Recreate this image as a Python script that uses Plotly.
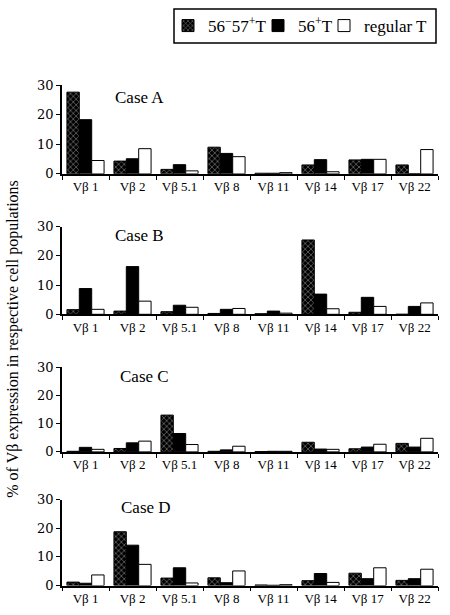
import plotly.graph_objects as go

categories = ["Vβ 1", "Vβ 2", "Vβ 5.1", "Vβ 8", "Vβ 11", "Vβ 14", "Vβ 17", "Vβ 22"]
series_names = ["56<sup>−</sup>57<sup>+</sup>T", "56<sup>+</sup>T", "regular T"]
case_labels = ["Case A", "Case B", "Case C", "Case D"]
y_ticks = [0, 10, 20, 30]

# values (% of Vβ expression) per case: [56-57+T, 56+T, regular T]
caseA_5657 = [27.6, 4.3, 1.5, 9.0, 0.2, 3.0, 4.7, 3.0]
caseA_56 = [18.3, 5.1, 3.1, 6.9, 0.2, 4.8, 4.9, 0.0]
caseA_reg = [4.5, 8.5, 1.0, 5.8, 0.4, 0.7, 4.9, 8.2]

caseB_5657 = [1.6, 1.1, 0.9, 0.3, 0.2, 25.4, 0.7, 0.0]
caseB_56 = [8.8, 16.3, 3.1, 1.7, 1.1, 6.9, 5.8, 2.7]
caseB_reg = [1.7, 4.5, 2.4, 2.0, 0.4, 1.9, 2.7, 3.9]

caseC_5657 = [0.2, 1.2, 13.0, 0.2, 0.1, 3.4, 1.1, 3.0]
caseC_56 = [1.6, 3.2, 6.5, 0.7, 0.2, 1.0, 1.7, 1.7]
caseC_reg = [0.9, 3.8, 2.6, 2.0, 0.2, 0.9, 2.7, 4.8]

caseD_5657 = [1.2, 18.8, 2.6, 2.7, 0.2, 1.7, 4.3, 1.8]
caseD_56 = [0.8, 14.1, 6.2, 1.0, 0.1, 4.2, 2.4, 2.4]
caseD_reg = [3.7, 7.4, 0.9, 5.1, 0.3, 1.1, 6.2, 5.7]

cases = [
    (caseA_5657, caseA_56, caseA_reg),
    (caseB_5657, caseB_56, caseB_reg),
    (caseC_5657, caseC_56, caseC_reg),
    (caseD_5657, caseD_56, caseD_reg),
]

W, H = 450, 615
FONT = "Liberation Serif, Times New Roman, serif"

# panel pixel positions: (y of 0, y of 30)
panel_px = [(171, 80), (315, 225), (456, 369), (593, 505)]
case_label_px = [(113, 93), (113, 234), (118, 379), (119, 513)]
x_dom = [62 / W, 438 / W]
legend_x_px = [168, 258, 324]
legend_names = ["legend", "legend2", "legend3"]

fig = go.Figure()

styles = [
    dict(color="black", pattern=dict(shape="x", fgcolor="white", bgcolor="black", size=4, solidity=0.3, fillmode="overlay")),
    dict(color="black"),
    dict(color="white"),
]

for i, vals in enumerate(cases):
    xa = "x" if i == 0 else f"x{i+1}"
    ya = "y" if i == 0 else f"y{i+1}"
    for j, v in enumerate(vals):
        mk = dict(styles[j])
        mk["line"] = dict(color="black", width=1)
        fig.add_trace(go.Bar(
            x=categories, y=v, name=series_names[j], marker=mk,
            xaxis=xa, yaxis=ya, showlegend=(i == 0), legend=legend_names[j],
        ))
    y0, y1 = panel_px[i]
    dom = [1 - y0 / H, 1 - y1 / H]
    axis_common = dict(showline=True, linecolor="black", linewidth=1.5, ticks="outside",
                       tickcolor="black", ticklen=4, tickwidth=1.2, showgrid=False, zeroline=False)
    fig.layout[("xaxis" if i == 0 else f"xaxis{i+1}")] = dict(
        domain=x_dom, anchor=ya, type="category", tickson="boundaries", tickangle=0,
        tickfont=dict(family=FONT, size=13, color="black"), **axis_common)
    fig.layout[("yaxis" if i == 0 else f"yaxis{i+1}")] = dict(
        domain=dom, anchor=xa, range=[0, 30], tickvals=y_ticks,
        tickfont=dict(family="DejaVu Serif, serif", size=13, color="black"), **axis_common)
    lx, ly = case_label_px[i]
    fig.add_annotation(text=case_labels[i], xref="paper", yref="paper", x=lx / W, y=1 - ly / H,
                       xanchor="left", yanchor="middle", showarrow=False,
                       font=dict(family=FONT, size=17, color="black"))

fig.add_annotation(text="% of Vβ expression in respective cell populations", xref="paper", yref="paper",
                   x=13 / W, y=1 - 340 / H, textangle=-90, showarrow=False,
                   xanchor="center", yanchor="middle",
                   font=dict(family=FONT, size=16, color="black"))

# legend frame
fig.add_shape(type="rect", xref="paper", yref="paper", x0=174 / W, x1=436 / W, y0=1 - 37 / H, y1=1 - 2 / H,
              line=dict(color="black", width=1.5), fillcolor="rgba(0,0,0,0)")

legend_common = dict(orientation="h", xanchor="left", yanchor="middle", y=1 - 19.5 / H,
                     borderwidth=0, bgcolor="rgba(0,0,0,0)", itemwidth=30,
                     font=dict(family=FONT, size=17, color="black"))

fig.update_layout(
    width=W, height=H, margin=dict(l=0, r=0, t=0, b=0),
    paper_bgcolor="white", plot_bgcolor="white",
    barmode="group", bargap=0.21, bargroupgap=0,
    legend=dict(x=legend_x_px[0] / W, **legend_common),
    legend2=dict(x=legend_x_px[1] / W, **legend_common),
    legend3=dict(x=legend_x_px[2] / W, **legend_common),
)

fig.write_html("out.html", config={"displayModeBar": False},
               post_script="document.body.style.margin='0';document.body.style.overflow='hidden';")
